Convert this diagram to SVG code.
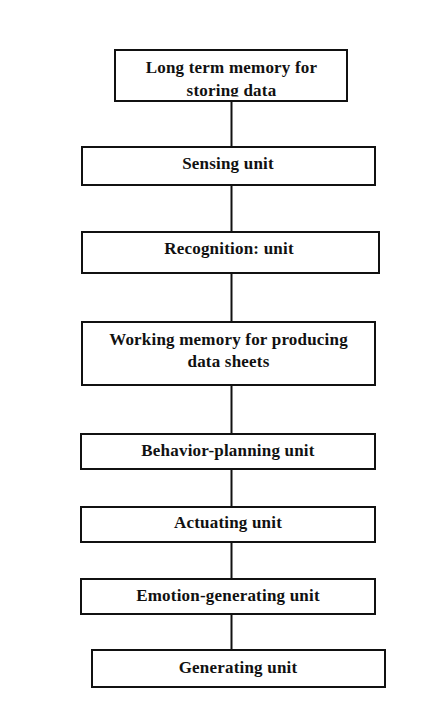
<svg xmlns="http://www.w3.org/2000/svg" width="445" height="714" viewBox="0 0 445 714">
<style>
.box{fill:#fff;stroke:#111;stroke-width:2}
.lbl{font-family:"Liberation Serif","Times New Roman",serif;font-weight:bold;font-size:17px;letter-spacing:0.2px;fill:#111;text-anchor:middle}
.conn{stroke:#111;stroke-width:2;fill:none}
</style>
<rect width="445" height="714" fill="#fff"/>
<g id="connectors">
<line class="conn" x1="231.5" y1="101" x2="231.5" y2="147"/>
<line class="conn" x1="231.5" y1="185" x2="231.5" y2="232"/>
<line class="conn" x1="231.5" y1="273" x2="231.5" y2="322"/>
<line class="conn" x1="231.5" y1="385" x2="231.5" y2="434"/>
<line class="conn" x1="231.5" y1="469" x2="231.5" y2="507"/>
<line class="conn" x1="231.5" y1="542" x2="231.5" y2="579"/>
<line class="conn" x1="231.5" y1="614" x2="231.5" y2="650"/>
</g>
<g id="n1">
<rect class="box" x="115" y="50" width="232" height="51"/>
<text class="lbl" x="231.5" y="73">Long term memory for</text>
<text class="lbl" x="231.5" y="96">storing data</text>
<rect x="116" y="96.5" width="230" height="3.5" fill="#fff"/>
<line class="conn" x1="115" y1="101" x2="347" y2="101"/>
</g>
<g id="n2">
<rect class="box" x="82" y="147" width="293" height="38"/>
<text class="lbl" x="228" y="169">Sensing unit</text>
</g>
<g id="n3">
<rect class="box" x="82" y="232" width="297" height="41"/>
<text class="lbl" x="229" y="254">Recognition: unit</text>
</g>
<g id="n4">
<rect class="box" x="82" y="322" width="293" height="63"/>
<text class="lbl" x="228.5" y="345">Working memory for producing</text>
<text class="lbl" x="228.5" y="367">data sheets</text>
</g>
<g id="n5">
<rect class="box" x="81" y="434" width="294" height="35"/>
<text class="lbl" x="228" y="456">Behavior-planning unit</text>
</g>
<g id="n6">
<rect class="box" x="81" y="507" width="294" height="35"/>
<text class="lbl" x="228" y="528">Actuating unit</text>
</g>
<g id="n7">
<rect class="box" x="81" y="579" width="294" height="35"/>
<text class="lbl" x="228" y="601">Emotion-generating unit</text>
</g>
<g id="n8">
<rect class="box" x="92" y="650" width="293" height="37"/>
<text class="lbl" x="238" y="673">Generating unit</text>
</g>
</svg>
